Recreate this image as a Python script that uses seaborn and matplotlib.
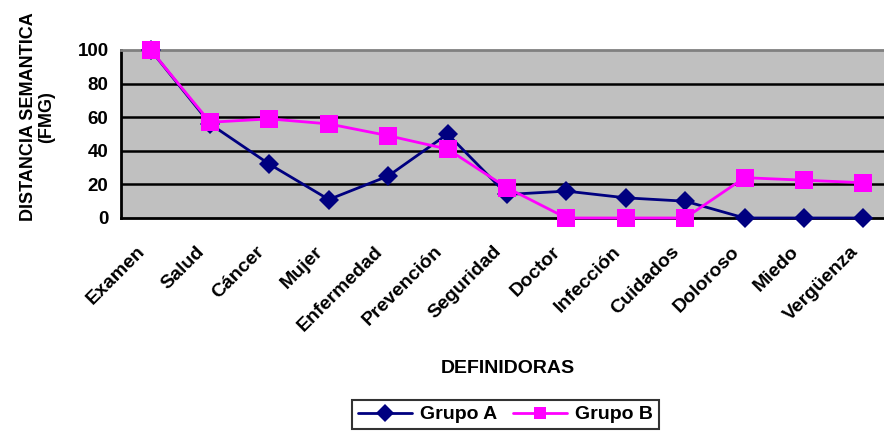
import numpy as np
import pandas as pd
import matplotlib
matplotlib.use('Agg')
import matplotlib.pyplot as plt
import matplotlib.transforms as mtransforms
import seaborn as sns

categorias = ['Examen', 'Salud', 'Cáncer', 'Mujer', 'Enfermedad', 'Prevención',
              'Seguridad', 'Doctor', 'Infección', 'Cuidados', 'Doloroso',
              'Miedo', 'Vergüenza']
grupo_a = [100, 56, 32, 11, 25, 50, 14, 16, 12, 10, 0, 0, 0]
grupo_b = [100, 57, 59, 56, 49, 41, 18, 0, 0, 0, 24, 22.5, 21]

sns.set_style('white')
plt.rcParams['font.family'] = ['Liberation Sans', 'DejaVu Sans']
plt.rcParams['text.color'] = 'black'
plt.rcParams['axes.labelcolor'] = 'black'
plt.rcParams['xtick.color'] = 'black'
plt.rcParams['ytick.color'] = 'black'

df = pd.DataFrame({
    'pos': list(range(len(categorias))) * 2,
    'valor': grupo_a + grupo_b,
    'grupo': ['Grupo A'] * len(categorias) + ['Grupo B'] * len(categorias),
})

fig = plt.figure(figsize=(8.84, 4.32), dpi=100)
ax = fig.add_axes([121 / 884, 1 - 218 / 432, 772 / 884, 168 / 432])
ax.set_facecolor('#C0C0C0')

sns.lineplot(data=df, x='pos', y='valor', hue='grupo', style='grupo',
             palette={'Grupo A': '#000080', 'Grupo B': '#FF00FF'},
             markers={'Grupo A': 'D', 'Grupo B': 's'},
             dashes=False, markersize=10, linewidth=2,
             markeredgewidth=0, ax=ax, zorder=3)
# square marker a bit bigger like the original
for ln in ax.lines:
    if ln.get_marker() == 's':
        ln.set_markersize(13)
    ln.set_clip_on(False)

ax.set_xlim(-0.5, len(categorias) - 0.5)
ax.set_ylim(0, 100)
ax.set_yticks([0, 20, 40, 60, 80, 100])
for y in [20, 40, 60, 80]:
    ax.axhline(y, color='black', lw=1.8, zorder=1)

ax.set_xticks(np.arange(len(categorias)))
ax.set_xticks(np.arange(len(categorias) + 1) - 0.5, minor=True)
ax.tick_params(axis='x', which='major', length=0, pad=18)
ax.tick_params(axis='x', which='minor', length=5, width=1.5, direction='out',
               color='black')
ax.tick_params(axis='y', length=6, width=1.5, direction='out', color='black',
               labelsize=13.5, pad=3, labelcolor='black')
ax.set_xticklabels(categorias, rotation=45, ha='right', rotation_mode='anchor',
                   fontsize=14, fontweight='bold', color='black')
# labels sit a little left of the category centre, like Excel does
shift = mtransforms.ScaledTranslation(-14 / 100, 0, fig.dpi_scale_trans)
for lab in ax.get_xticklabels():
    lab.set_transform(lab.get_transform() + shift)
for lab in ax.get_yticklabels():
    lab.set_fontweight('bold')

for side in ['left', 'bottom']:
    ax.spines[side].set_color('black')
    ax.spines[side].set_linewidth(2)
ax.spines['top'].set_color('#808080')
ax.spines['top'].set_linewidth(2)
ax.spines['right'].set_visible(False)

ax.set_xlabel('DEFINIDORAS', fontsize=14, fontweight='bold', color='black')
ax.set_ylabel('DISTANCIA SEMANTICA\n(FMG)', fontsize=13, fontweight='bold',
              linespacing=1.1, color='black')
ax.xaxis.set_label_coords((508 - 121) / 772, -(360 - 218) / 168)
ax.yaxis.set_label_coords(-(121 - 55) / 772, (218 - 117) / 168)

leg = ax.legend(loc='upper left', bbox_to_anchor=(352 / 884, 1 - 400 / 432),
                bbox_transform=fig.transFigure, ncol=2, frameon=True,
                fancybox=False, edgecolor='black', handlelength=2.8,
                handletextpad=0.4, columnspacing=0.8,
                prop={'weight': 'bold', 'size': 14},
                borderpad=0.3, borderaxespad=0)
leg.get_frame().set_linewidth(1.5)
for h in leg.legend_handles:
    h.set_markersize(9)
for t in leg.get_texts():
    t.set_color('black')

fig.savefig('out.png', dpi=100)
